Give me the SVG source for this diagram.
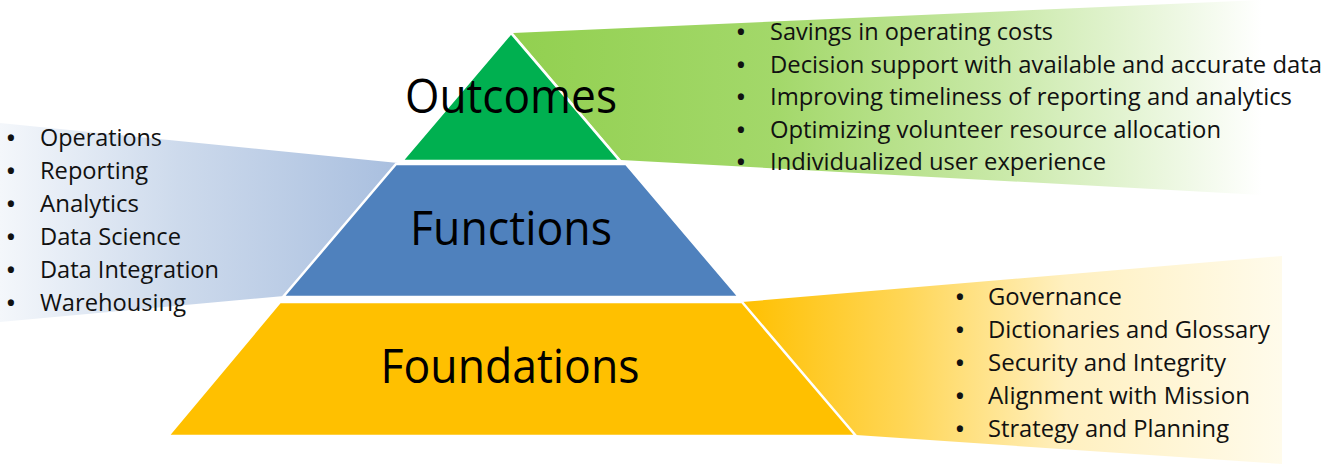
<svg xmlns="http://www.w3.org/2000/svg" width="1331" height="466" viewBox="0 0 1331 466">
  <defs>
    <linearGradient id="gradGreen" gradientUnits="userSpaceOnUse" x1="515" y1="0" x2="1262" y2="0">
      <stop offset="0" stop-color="#92D050"/>
      <stop offset="0.35" stop-color="#A3D86A"/>
      <stop offset="0.65" stop-color="#C9E9A8"/>
      <stop offset="1" stop-color="#FFFFFF"/>
    </linearGradient>
    <linearGradient id="gradBlue" gradientUnits="userSpaceOnUse" x1="0" y1="0" x2="397" y2="0">
      <stop offset="0" stop-color="#F4F7FB"/>
      <stop offset="0.45" stop-color="#CDDAEC"/>
      <stop offset="1" stop-color="#A9BFDF"/>
    </linearGradient>
    <linearGradient id="gradYellow" gradientUnits="userSpaceOnUse" x1="742" y1="0" x2="1282" y2="0">
      <stop offset="0" stop-color="#FFC000"/>
      <stop offset="0.3" stop-color="#FFD656"/>
      <stop offset="0.6" stop-color="#FFF0C0"/>
      <stop offset="1" stop-color="#FFFBEB"/>
    </linearGradient>
  </defs>
  <style>
    .tier { stroke: #FFFFFF; stroke-width: 2.5; stroke-linejoin: miter; }
    .tier-label { font-family: "Open Sans", "Noto Sans", sans-serif; font-size: 47px; fill: #000000; text-anchor: middle; }
    .item { font-family: "Open Sans", "Noto Sans", sans-serif; font-size: 23px; fill: #111111; }
    .bullet { font-family: "Open Sans", "Noto Sans", sans-serif; font-size: 22px; font-weight: bold; fill: #111111; text-anchor: middle; }
  </style>

  <!-- callout bands fanning out from each tier -->
  <g id="connectors">
    <polygon id="band-outcomes" points="513,33 1262,0 1262,195 621,160" fill="url(#gradGreen)"/>
    <polygon id="band-functions" points="0,123 398,163 284,296 0,322" fill="url(#gradBlue)"/>
    <polygon id="band-foundations" points="742,302 1282,256 1282,464 856,435" fill="url(#gradYellow)"/>
  </g>

  <!-- pyramid tiers -->
  <g id="node-outcomes">
    <polygon class="tier" points="511,33 620,161 402,161" fill="#00B050"/>
    <text class="tier-label" x="511" y="113" textLength="212" lengthAdjust="spacingAndGlyphs">Outcomes</text>
  </g>
  <g id="node-functions">
    <polygon class="tier" points="396,164 626,164 739,297 283,297" fill="#4F81BD"/>
    <text class="tier-label" x="511" y="245" textLength="202" lengthAdjust="spacingAndGlyphs">Functions</text>
  </g>
  <g id="node-foundations">
    <polygon class="tier" points="280,302 742,302 856,436 168,436" fill="#FFC000"/>
    <text class="tier-label" x="510" y="383" textLength="259" lengthAdjust="spacingAndGlyphs">Foundations</text>
  </g>

  <!-- outcomes list -->
  <g id="list-outcomes">
    <text class="bullet" x="741" y="40">•</text>
    <text class="item" x="770" y="40" textLength="283" lengthAdjust="spacingAndGlyphs">Savings in operating costs</text>
    <text class="bullet" x="741" y="72.5">•</text>
    <text class="item" x="770" y="72.5" textLength="552" lengthAdjust="spacingAndGlyphs">Decision support with available and accurate data</text>
    <text class="bullet" x="741" y="105">•</text>
    <text class="item" x="770" y="105" textLength="522" lengthAdjust="spacingAndGlyphs">Improving timeliness of reporting and analytics</text>
    <text class="bullet" x="741" y="137.5">•</text>
    <text class="item" x="770" y="137.5" textLength="451" lengthAdjust="spacingAndGlyphs">Optimizing volunteer resource allocation</text>
    <text class="bullet" x="741" y="170">•</text>
    <text class="item" x="770" y="170" textLength="336" lengthAdjust="spacingAndGlyphs">Individualized user experience</text>
  </g>

  <!-- functions list -->
  <g id="list-functions">
    <text class="bullet" x="11" y="146">•</text>
    <text class="item" x="40" y="146" textLength="122" lengthAdjust="spacingAndGlyphs">Operations</text>
    <text class="bullet" x="11" y="179">•</text>
    <text class="item" x="40" y="179" textLength="108" lengthAdjust="spacingAndGlyphs">Reporting</text>
    <text class="bullet" x="11" y="212">•</text>
    <text class="item" x="40" y="212" textLength="99" lengthAdjust="spacingAndGlyphs">Analytics</text>
    <text class="bullet" x="11" y="245">•</text>
    <text class="item" x="40" y="245" textLength="141" lengthAdjust="spacingAndGlyphs">Data Science</text>
    <text class="bullet" x="11" y="278">•</text>
    <text class="item" x="40" y="278" textLength="179" lengthAdjust="spacingAndGlyphs">Data Integration</text>
    <text class="bullet" x="11" y="311">•</text>
    <text class="item" x="40" y="311" textLength="146" lengthAdjust="spacingAndGlyphs">Warehousing</text>
  </g>

  <!-- foundations list -->
  <g id="list-foundations">
    <text class="bullet" x="960" y="305">•</text>
    <text class="item" x="988" y="305" textLength="134" lengthAdjust="spacingAndGlyphs">Governance</text>
    <text class="bullet" x="960" y="338">•</text>
    <text class="item" x="988" y="338" textLength="282" lengthAdjust="spacingAndGlyphs">Dictionaries and Glossary</text>
    <text class="bullet" x="960" y="371">•</text>
    <text class="item" x="988" y="371" textLength="238" lengthAdjust="spacingAndGlyphs">Security and Integrity</text>
    <text class="bullet" x="960" y="404">•</text>
    <text class="item" x="988" y="404" textLength="262" lengthAdjust="spacingAndGlyphs">Alignment with Mission</text>
    <text class="bullet" x="960" y="437">•</text>
    <text class="item" x="988" y="437" textLength="241" lengthAdjust="spacingAndGlyphs">Strategy and Planning</text>
  </g>
</svg>
